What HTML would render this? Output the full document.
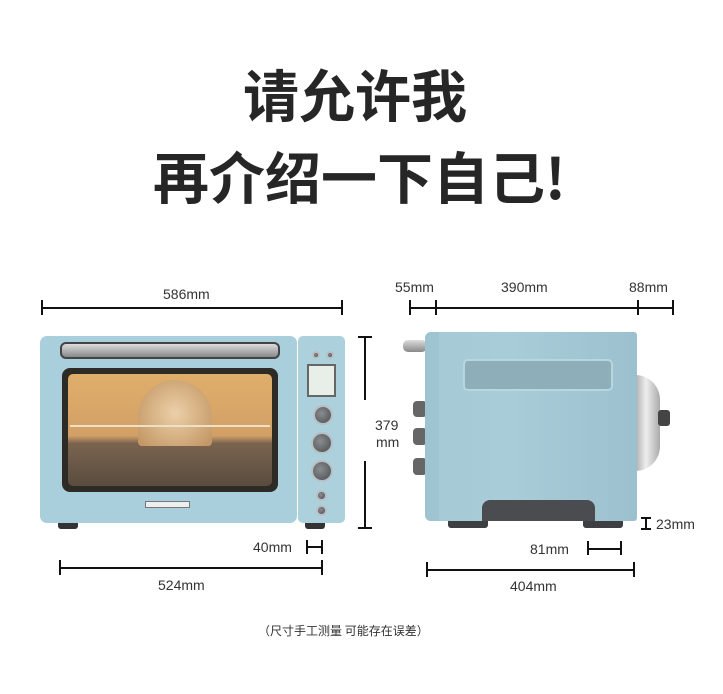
<!DOCTYPE html>
<html><head><meta charset="utf-8"><style>
body{margin:0;width:723px;height:694px;background:#fff;position:relative;overflow:hidden;font-family:"Liberation Sans","Noto Sans CJK SC",sans-serif;color:#222}
div{position:absolute;box-sizing:border-box}
.t{font-family:"Noto Sans CJK SC",sans-serif;font-weight:700;font-size:56px;line-height:56px;white-space:nowrap;color:#262626}
.l{font-size:14px;color:#333;white-space:nowrap;line-height:14px}
.h{height:2px;background:#111}
.v{width:2px;background:#111}
.k{border-radius:50%;background:radial-gradient(circle at 40% 40%,#8a8d90,#4a4d50);border:2px solid #b8c0c4}
</style></head><body>
<div class="t" style="left:243px;top:66px">请允许我</div>
<div class="t" style="left:153px;top:148px">再介绍一下自己!</div>

<!-- front dims -->
<div class="l" style="left:163px;top:287px">586mm</div>
<div class="h" style="left:41px;top:307px;width:302px"></div>
<div class="v" style="left:41px;top:300px;height:15px"></div>
<div class="v" style="left:341px;top:300px;height:15px"></div>
<div class="v" style="left:364px;top:336px;height:64px"></div>
<div class="v" style="left:364px;top:461px;height:67px"></div>
<div class="h" style="left:358px;top:336px;width:14px"></div>
<div class="h" style="left:358px;top:527px;width:14px"></div>
<div class="l" style="left:375px;top:418px">379</div>
<div class="l" style="left:376px;top:435px">mm</div>
<div class="l" style="left:253px;top:540px">40mm</div>
<div class="h" style="left:306px;top:546px;width:16px"></div>
<div class="v" style="left:306px;top:540px;height:14px"></div>
<div class="v" style="left:321px;top:540px;height:14px"></div>
<div class="h" style="left:59px;top:567px;width:264px"></div>
<div class="v" style="left:59px;top:560px;height:15px"></div>
<div class="v" style="left:321px;top:560px;height:15px"></div>
<div class="l" style="left:158px;top:578px">524mm</div>

<!-- front oven -->
<div style="left:58px;top:518px;width:20px;height:11px;background:#333;border-radius:3px"></div>
<div style="left:305px;top:518px;width:20px;height:11px;background:#333;border-radius:3px"></div>
<div style="left:40px;top:336px;width:257px;height:187px;background:#a9cfdc;border-radius:7px"></div>
<div style="left:298px;top:336px;width:47px;height:187px;background:#acd1dd;border-radius:5px"></div>
<div style="left:60px;top:342px;width:220px;height:17px;background:linear-gradient(#ddd,#888);border-radius:6px;border:2px solid #444"></div>
<div style="left:62px;top:368px;width:216px;height:124px;background:#2e2a25;border-radius:8px"></div>
<div style="left:68px;top:374px;width:204px;height:112px;background:linear-gradient(#e0ae6a,#d2a066 55%,#7a6450 62%,#5a4c3e);border-radius:5px"></div>
<div style="left:138px;top:380px;width:74px;height:66px;background:radial-gradient(circle,#ecd0a8,#c0925e);border-radius:40px 40px 4px 4px"></div>
<div style="left:70px;top:425px;width:200px;height:2px;background:#eee0c8"></div>
<div style="left:145px;top:501px;width:45px;height:7px;background:#eee;border:1px solid #777"></div>
<div class="k" style="left:312px;top:351px;width:8px;height:8px"></div>
<div class="k" style="left:326px;top:351px;width:8px;height:8px"></div>
<div style="left:307px;top:364px;width:29px;height:33px;background:#e8eee8;border:2px solid #666"></div>
<div class="k" style="left:313px;top:405px;width:20px;height:20px"></div>
<div class="k" style="left:311px;top:432px;width:22px;height:22px"></div>
<div class="k" style="left:311px;top:460px;width:22px;height:22px"></div>
<div class="k" style="left:316px;top:490px;width:11px;height:11px"></div>
<div class="k" style="left:316px;top:505px;width:11px;height:11px"></div>

<!-- side dims -->
<div class="l" style="left:395px;top:280px">55mm</div>
<div class="l" style="left:501px;top:280px">390mm</div>
<div class="l" style="left:629px;top:280px">88mm</div>
<div class="h" style="left:409px;top:307px;width:265px"></div>
<div class="v" style="left:409px;top:300px;height:15px"></div>
<div class="v" style="left:435px;top:300px;height:15px"></div>
<div class="v" style="left:637px;top:300px;height:15px"></div>
<div class="v" style="left:672px;top:300px;height:15px"></div>
<div class="v" style="left:645px;top:518px;height:11px"></div>
<div class="h" style="left:641px;top:517px;width:10px"></div>
<div class="h" style="left:641px;top:528px;width:10px"></div>
<div class="l" style="left:656px;top:517px">23mm</div>
<div class="l" style="left:530px;top:542px">81mm</div>
<div class="h" style="left:587px;top:548px;width:35px"></div>
<div class="v" style="left:587px;top:541px;height:14px"></div>
<div class="v" style="left:620px;top:541px;height:14px"></div>
<div class="h" style="left:426px;top:569px;width:209px"></div>
<div class="v" style="left:426px;top:562px;height:15px"></div>
<div class="v" style="left:633px;top:562px;height:15px"></div>
<div class="l" style="left:510px;top:579px">404mm</div>

<!-- side oven -->
<div style="left:403px;top:340px;width:24px;height:12px;background:linear-gradient(#ddd,#888);border-radius:5px"></div>
<div style="left:413px;top:401px;width:14px;height:16px;background:#666;border-radius:4px"></div>
<div style="left:413px;top:428px;width:14px;height:17px;background:#666;border-radius:4px"></div>
<div style="left:413px;top:458px;width:14px;height:17px;background:#666;border-radius:4px"></div>
<div style="left:632px;top:375px;width:28px;height:96px;background:linear-gradient(90deg,#999,#eee,#aaa);border-radius:4px 30px 30px 4px"></div>
<div style="left:658px;top:410px;width:12px;height:16px;background:#444;border-radius:3px"></div>
<div style="left:448px;top:516px;width:40px;height:12px;background:#3d3f42;border-radius:3px"></div>
<div style="left:583px;top:516px;width:40px;height:12px;background:#3d3f42;border-radius:3px"></div>
<div style="left:425px;top:332px;width:212px;height:189px;background:linear-gradient(90deg,#a5c9d5,#a8ccd8 40%,#9cc0cd);border-radius:6px 3px 3px 6px"></div>
<div style="left:425px;top:332px;width:14px;height:189px;background:#9fc4d1;border-radius:6px 0 0 6px"></div>
<div style="left:463px;top:359px;width:150px;height:32px;background:#8eaeba;border:2px solid #b8d6e0;border-radius:5px"></div>
<div style="left:482px;top:500px;width:113px;height:21px;background:#4a4c4f;border-radius:8px 8px 0 0"></div>

<div style="left:258px;top:622px;font-size:12px;color:#333;white-space:nowrap;font-family:'Noto Sans CJK SC',sans-serif">（尺寸手工测量 可能存在误差）</div>
</body></html>
